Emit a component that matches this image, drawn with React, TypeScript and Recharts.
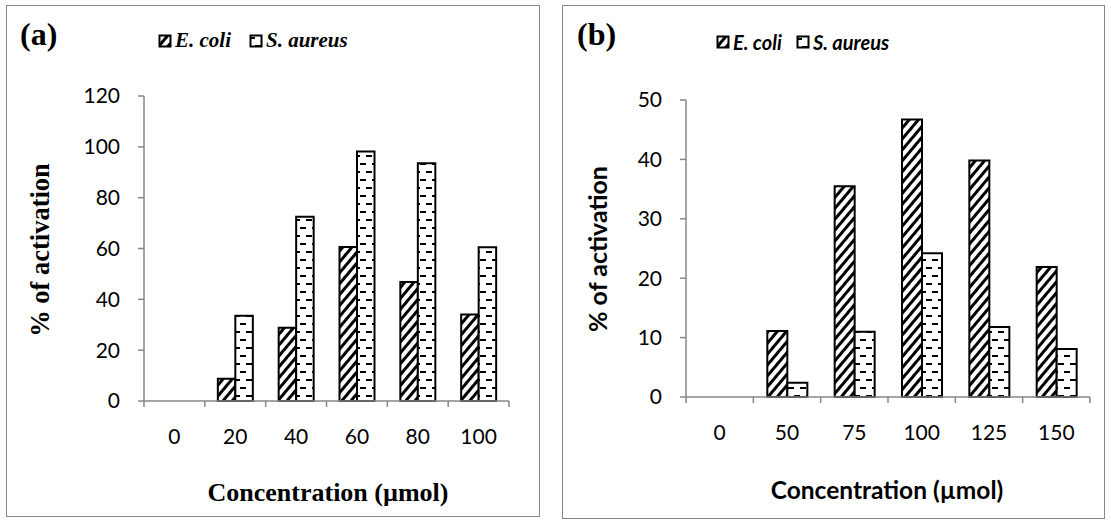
import React from "react";
import { BarChart, Bar, XAxis, YAxis } from "recharts";

// Panel (a): activation vs concentration, 0-100 µmol
const CONC_A = ["0", "20", "40", "60", "80", "100"];
const ECOLI_A = [0, 8.8, 28.8, 60.6, 46.8, 34.0];
const SAUREUS_A = [0, 33.5, 72.5, 98.2, 93.5, 60.5];
const TICKS_A = [0, 20, 40, 60, 80, 100, 120];

// Panel (b): activation vs concentration, 0-150 µmol
const CONC_B = ["0", "50", "75", "100", "125", "150"];
const ECOLI_B = [0, 11.1, 35.5, 46.7, 39.8, 21.9];
const SAUREUS_B = [0, 2.4, 11.0, 24.2, 11.8, 8.1];
const TICKS_B = [0, 10, 20, 30, 40, 50];

const AXIS = "#878787";
const SERIF = "'Liberation Serif', 'Times New Roman', serif";
const SANS = "Lato, Carlito, Calibri, sans-serif";

const dataA = CONC_A.map((c, i) => ({ conc: c, ecoli: ECOLI_A[i], saureus: SAUREUS_A[i] }));
const dataB = CONC_B.map((c, i) => ({ conc: c, ecoli: ECOLI_B[i], saureus: SAUREUS_B[i] }));

function Patterns({ id }: { id: string }) {
  return (
    <defs>
      <pattern id={`diag-${id}`} patternUnits="userSpaceOnUse" width="7" height="7" patternTransform="rotate(40)">
        <rect width="7" height="7" fill="#fff" />
        <line x1="0" y1="0" x2="0" y2="7" stroke="#000" strokeWidth="6" />
      </pattern>
      <pattern id={`dash-${id}`} patternUnits="userSpaceOnUse" width="12" height="16">
        <rect width="12" height="16" fill="#fff" />
        <line x1="0" y1="4" x2="6" y2="4" stroke="#000" strokeWidth="2" />
        <line x1="6" y1="12" x2="12" y2="12" stroke="#000" strokeWidth="2" />
      </pattern>
    </defs>
  );
}

// category tick: label centred, tick marks on the band boundaries
function CatTick(props: any) {
  const { x, y, payload, index, visibleTicksCount, half, font, size } = props;
  const h = payload.offset || half;
  const last = index === visibleTicksCount - 1;
  return (
    <g>
      <line x1={x - h} x2={x - h} y1={y} y2={y + 6} stroke={AXIS} strokeWidth={1.5} />
      {last && <line x1={x + h} x2={x + h} y1={y} y2={y + 6} stroke={AXIS} strokeWidth={1.5} />}
      <text x={x} y={y + 43} textAnchor="middle" fontFamily={font} fontSize={size} fill="#000">
        {payload.value}
      </text>
    </g>
  );
}

function LegendBox({ id, font, size, gap }: { id: string; font: string; size: number; gap: number }) {
  const items = [
    { name: "E. coli", fill: `url(#diag-${id})` },
    { name: "S. aureus", fill: `url(#dash-${id})` },
  ];
  return (
    <div style={{ display: "flex", alignItems: "center", gap }}>
      {items.map((it) => (
        <div key={it.name} style={{ display: "flex", alignItems: "center" }}>
          <svg width="14" height="14" style={{ marginRight: 3 }}>
            <rect x="1.5" y="1.5" width="11" height="11" fill={it.fill} stroke="#000" strokeWidth="2" />
          </svg>
          <span style={{ fontFamily: font, fontSize: size, fontWeight: "bold", fontStyle: "italic" }}>{it.name}</span>
        </div>
      ))}
    </div>
  );
}

export default function App() {
  return (
    <div style={{ position: "absolute", left: 0, top: 0, width: 1111, height: 520, background: "#fff" }}>
      {/* panel frames */}
      <div style={{ position: "absolute", left: 6, top: 5, width: 532, height: 510, border: `1.5px solid ${AXIS}` }} />
      <div style={{ position: "absolute", left: 562, top: 5, width: 541, height: 512, border: `1.5px solid ${AXIS}` }} />

      {/* panel (a) */}
      <div style={{ position: "absolute", left: 0, top: 0 }}>
        <BarChart
          width={560}
          height={520}
          data={dataA}
          margin={{ top: 96, right: 51, left: 84, bottom: 69 }}
          barGap={0}
          barSize={17.5}
        >
          <Patterns id="a" />
          <XAxis
            dataKey="conc"
            height={50}
            stroke={AXIS}
            strokeWidth={1.5}
            tickLine={false}
            tickSize={0}
            tickMargin={0}
            interval={0}
            tick={<CatTick half={30.4} font={SANS} size={21} />}
          />
          <YAxis
            width={60}
            domain={[0, 120]}
            ticks={TICKS_A}
            stroke={AXIS}
            strokeWidth={1.5}
            tickSize={6}
            tickMargin={18}
            tick={{ fill: "#000", fontFamily: SANS, fontSize: 21 }}
          />
          <Bar dataKey="ecoli" name="E. coli" fill="url(#diag-a)" stroke="#000" strokeWidth={2} isAnimationActive={false} />
          <Bar dataKey="saureus" name="S. aureus" fill="url(#dash-a)" stroke="#000" strokeWidth={2} isAnimationActive={false} />
        </BarChart>
      </div>
      <div style={{ position: "absolute", left: 158, top: 28 }}>
        <LegendBox id="a" font={SERIF} size={21} gap={18} />
      </div>
      <div style={{ position: "absolute", left: 20, top: 16, fontFamily: SERIF, fontWeight: "bold", fontSize: 32 }}>(a)</div>
      <div
        style={{
          position: "absolute", left: 40, top: 250, transform: "translate(-50%, -50%) rotate(-90deg)",
          whiteSpace: "nowrap", fontFamily: SERIF, fontWeight: "bold", fontSize: 26.5,
        }}
      >
        % of activation
      </div>
      <div
        style={{
          position: "absolute", left: 328, top: 493, transform: "translate(-50%, -50%)",
          whiteSpace: "nowrap", fontFamily: SERIF, fontWeight: "bold", fontSize: 26,
        }}
      >
        Concentration (µmol)
      </div>

      {/* panel (b) */}
      <div style={{ position: "absolute", left: 560, top: 0 }}>
        <BarChart
          width={551}
          height={520}
          data={dataB}
          margin={{ top: 100, right: 21, left: 66, bottom: 73 }}
          barGap={0}
          barSize={20}
        >
          <Patterns id="b" />
          <XAxis
            dataKey="conc"
            height={50}
            stroke={AXIS}
            strokeWidth={1.5}
            tickLine={false}
            tickSize={0}
            tickMargin={0}
            interval={0}
            tick={<CatTick half={33.7} font={SANS} size={21} />}
          />
          <YAxis
            width={60}
            domain={[0, 50]}
            ticks={TICKS_B}
            stroke={AXIS}
            strokeWidth={1.5}
            tickSize={6}
            tickMargin={18}
            tick={{ fill: "#000", fontFamily: SANS, fontSize: 21 }}
          />
          <Bar dataKey="ecoli" name="E. coli" fill="url(#diag-b)" stroke="#000" strokeWidth={2} isAnimationActive={false} />
          <Bar dataKey="saureus" name="S. aureus" fill="url(#dash-b)" stroke="#000" strokeWidth={2} isAnimationActive={false} />
        </BarChart>
      </div>
      <div style={{ position: "absolute", left: 716, top: 30 }}>
        <LegendBox id="b" font={SANS} size={20} gap={14} />
      </div>
      <div style={{ position: "absolute", left: 577, top: 16, fontFamily: SERIF, fontWeight: "bold", fontSize: 32 }}>(b)</div>
      <div
        style={{
          position: "absolute", left: 597, top: 249, transform: "translate(-50%, -50%) rotate(-90deg)",
          whiteSpace: "nowrap", fontFamily: SANS, fontWeight: "bold", fontSize: 25,
        }}
      >
        % of activation
      </div>
      <div
        style={{
          position: "absolute", left: 887, top: 489, transform: "translate(-50%, -50%)",
          whiteSpace: "nowrap", fontFamily: SANS, fontWeight: "bold", fontSize: 24.5,
        }}
      >
        Concentration (µmol)
      </div>
    </div>
  );
}
